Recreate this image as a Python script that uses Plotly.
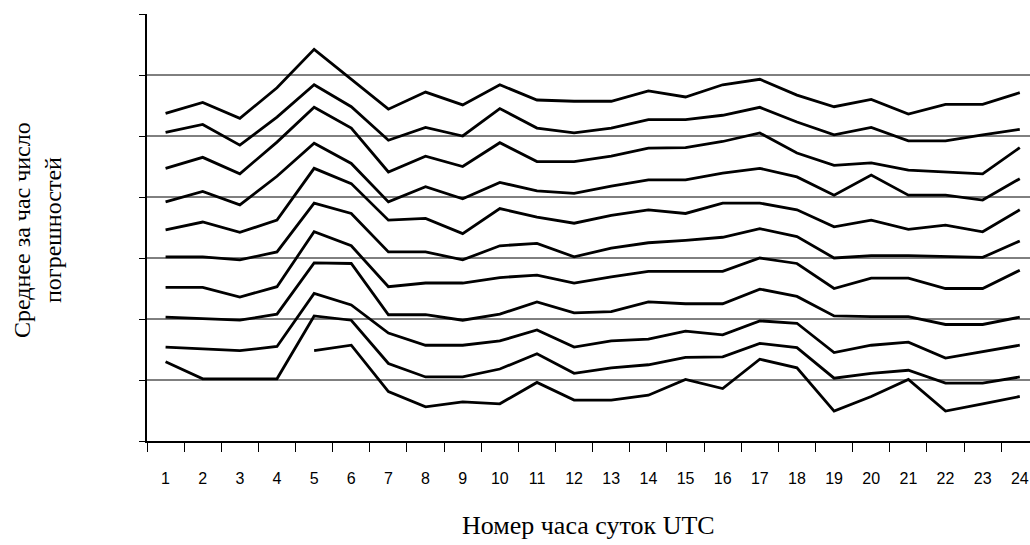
import plotly.graph_objects as go

# Номер часа суток UTC
hours = [str(h) for h in range(1, 25)]

# среднее за час число погрешностей, кривые сверху вниз
s1 = [5.37, 5.55, 5.29, 5.79, 6.42, 5.93, 5.44, 5.72, 5.51, 5.84, 5.59, 5.57,
      5.57, 5.74, 5.64, 5.84, 5.93, 5.67, 5.48, 5.60, 5.36, 5.52, 5.52, 5.71]
s2 = [5.06, 5.19, 4.85, 5.31, 5.84, 5.48, 4.93, 5.14, 5.00, 5.45, 5.13, 5.05,
      5.13, 5.27, 5.27, 5.34, 5.47, 5.23, 5.02, 5.14, 4.92, 4.92, 5.02, 5.11]
s3 = [4.47, 4.65, 4.38, 4.90, 5.47, 5.13, 4.41, 4.67, 4.50, 4.89, 4.58, 4.58,
      4.67, 4.80, 4.81, 4.91, 5.05, 4.72, 4.52, 4.56, 4.44, 4.41, 4.38, 4.81]
s4 = [3.92, 4.09, 3.87, 4.34, 4.88, 4.55, 3.92, 4.17, 3.97, 4.24, 4.10, 4.06,
      4.18, 4.28, 4.28, 4.39, 4.47, 4.33, 4.03, 4.36, 4.03, 4.03, 3.95, 4.30]
s5 = [3.46, 3.59, 3.42, 3.62, 4.47, 4.22, 3.62, 3.65, 3.40, 3.81, 3.67, 3.57,
      3.70, 3.79, 3.73, 3.90, 3.90, 3.79, 3.51, 3.62, 3.47, 3.54, 3.43, 3.79]
s6 = [3.02, 3.02, 2.97, 3.10, 3.90, 3.73, 3.10, 3.10, 2.97, 3.20, 3.24, 3.02,
      3.16, 3.25, 3.29, 3.34, 3.48, 3.35, 3.00, 3.04, 3.04, 3.02, 3.01, 3.28]
s7 = [2.52, 2.52, 2.36, 2.53, 3.43, 3.20, 2.53, 2.59, 2.59, 2.68, 2.72, 2.59,
      2.69, 2.78, 2.78, 2.78, 3.00, 2.91, 2.50, 2.67, 2.67, 2.50, 2.50, 2.80]
s8 = [2.03, 2.00, 1.98, 2.08, 2.92, 2.91, 2.07, 2.07, 1.98, 2.08, 2.28, 2.10,
      2.12, 2.28, 2.25, 2.25, 2.49, 2.37, 2.05, 2.04, 2.04, 1.91, 1.91, 2.03]
s9 = [1.54, 1.51, 1.48, 1.55, 2.42, 2.23, 1.77, 1.57, 1.57, 1.64, 1.82, 1.54,
      1.64, 1.67, 1.80, 1.74, 1.97, 1.93, 1.45, 1.57, 1.62, 1.36, 1.47, 1.57]
s10 = [1.30, 1.02, 1.02, 1.02, 2.05, 1.98, 1.27, 1.05, 1.05, 1.18, 1.43, 1.11,
       1.20, 1.25, 1.37, 1.38, 1.60, 1.53, 1.03, 1.11, 1.16, 0.95, 0.95, 1.05]
s11 = [None, None, None, None, 1.48, 1.57, 0.81, 0.56, 0.64, 0.61, 0.96, 0.67,
       0.67, 0.75, 1.01, 0.86, 1.34, 1.20, 0.49, 0.73, 1.01, 0.49, 0.61, 0.73]

series = [s1, s2, s3, s4, s5, s6, s7, s8, s9, s10, s11]
grid_levels = [1, 2, 3, 4, 5, 6]

fig = go.Figure()

for s in series:
    fig.add_trace(go.Scatter(
        x=hours,
        y=s,
        mode="lines",
        line=dict(color="black", width=2.8),
        connectgaps=False,
        showlegend=False,
    ))

# горизонтальные линии сетки (без верхней)
for g in grid_levels:
    fig.add_hline(y=g, line_color="black", line_width=1, layer="below")

fig.update_xaxes(
    type="category",
    range=[-0.5, 23.275],
    tickson="boundaries",
    ticks="outside",
    ticklen=9,
    tickwidth=1,
    tickcolor="black",
    ticklabelstandoff=22,
    ticklabeloverflow="allow",
    showline=True,
    linecolor="black",
    linewidth=1.5,
    showgrid=False,
    zeroline=False,
    tickfont=dict(family="Liberation Sans", size=16, color="black"),
)
fig.update_yaxes(
    range=[0, 7],
    tickvals=[0, 1, 2, 3, 4, 5, 6, 7],
    showticklabels=False,
    ticks="outside",
    ticklen=6,
    tickwidth=1,
    tickcolor="black",
    showline=True,
    linecolor="black",
    linewidth=1.5,
    showgrid=False,
    zeroline=False,
)

title_font = dict(family="Liberation Serif", size=24, color="black")

# подпись оси Y в две строки
fig.add_annotation(
    text="Среднее за час число",
    xref="paper", yref="paper",
    x=-0.1416, y=0.494,
    xanchor="center", yanchor="middle",
    textangle=-90, showarrow=False, font=title_font,
)
fig.add_annotation(
    text="погрешностей",
    xref="paper", yref="paper",
    x=-0.1065, y=0.494,
    xanchor="center", yanchor="middle",
    textangle=-90, showarrow=False, font=title_font,
)
fig.add_annotation(
    text="Номер часа суток UTC",
    xref="paper", yref="paper",
    x=0.5, y=-0.197,
    xanchor="center", yanchor="middle",
    showarrow=False,
    font=dict(family="Liberation Serif", size=26, color="black"),
)

fig.update_layout(
    width=1030,
    height=545,
    margin=dict(l=147, r=0, t=14, b=104),
    plot_bgcolor="white",
    paper_bgcolor="white",
)

# убрать стандартный отступ страницы и панель инструментов
fig.write_html(
    "out.html",
    config={"displayModeBar": False},
    post_script="document.body.style.margin='0';document.body.style.overflow='hidden';",
)
